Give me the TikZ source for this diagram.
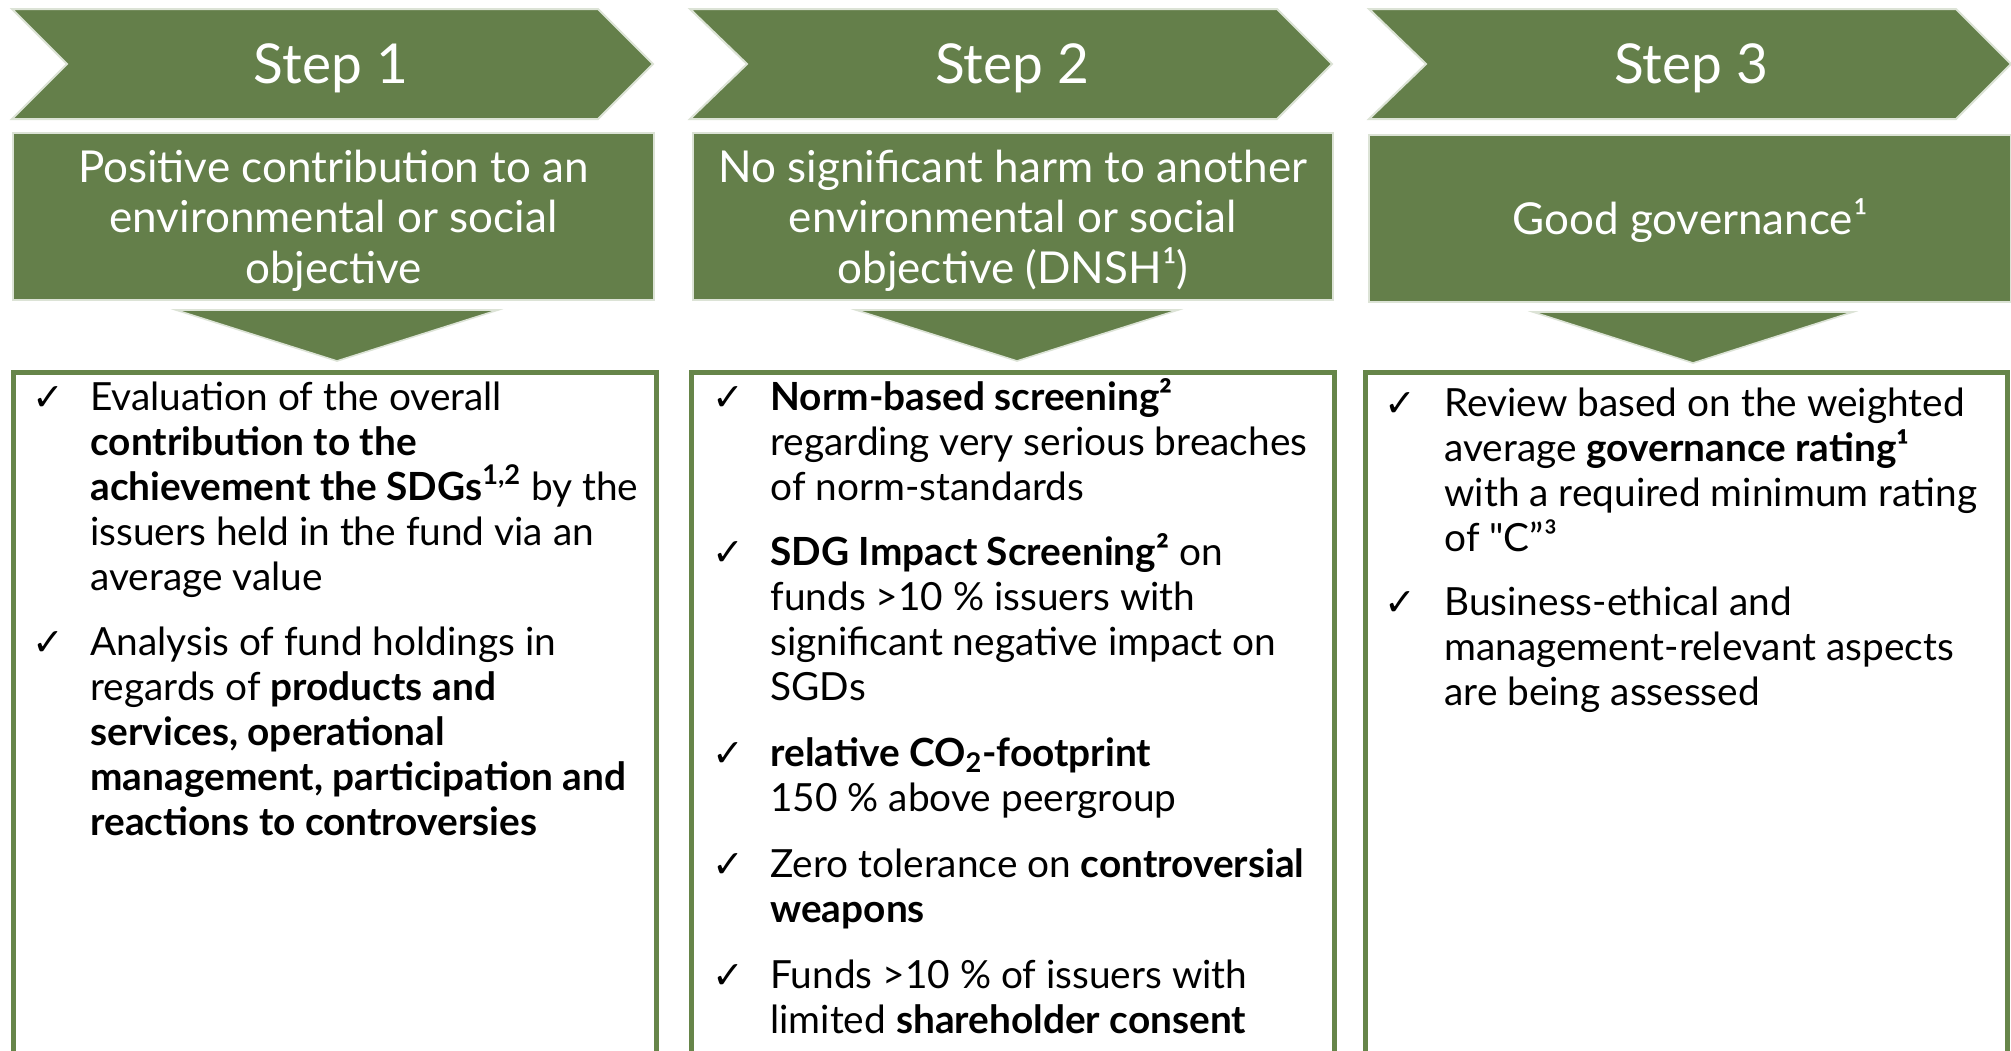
\documentclass[tikz,border=0pt]{standalone}
\usepackage{fontspec}
\setmainfont{Lato}
\newfontfamily\symfont{DejaVu Sans}
\newcommand\sq{{\XeTeXglyph\XeTeXcharglyph"22\relax}}
\definecolor{sgreen}{HTML}{647F4A}
\definecolor{sedge}{HTML}{DCE3D6}
\definecolor{sframe}{HTML}{668549}
\begin{document}
\begin{tikzpicture}[x=0.5pt,y=-0.5pt,
  chev/.style={fill=sgreen,draw=sedge,line width=1pt,line join=miter},
  tri/.style={fill=sgreen,draw=sedge,line width=0.8pt},
  hbox/.style={fill=sgreen,draw=sedge,line width=1pt,inner sep=0,text=white,align=center,
    minimum height=83.5pt,font=\fontsize{22}{25.25}\selectfont},
  steplbl/.style={text=white,font=\fontsize{27.5}{33}\selectfont,anchor=base,inner sep=0},
  cbox/.style={draw=sframe,line width=2.5pt},
  chk/.style={anchor=base west,inner sep=0,font=\symfont\fontsize{19}{20}\selectfont},
  itm/.style={anchor=base west,inner sep=0,font=\fontsize{19.4}{22.5}\selectfont}]
\useasboundingbox (0,0) rectangle (2011,1050);
\clip (0,0) rectangle (2011,1050);
\fill[white] (0,0) rectangle (2011,1050);

% chevrons
\draw[chev] (12,9) -- (598,9) -- (653,64) -- (598,119) -- (12,119) -- (67,64) -- cycle;
\draw[chev] (690,9) -- (1277,9) -- (1332,64) -- (1277,119) -- (690,119) -- (747,64) -- cycle;
\draw[chev] (1369,9) -- (1956,9) -- (2011,64) -- (1956,119) -- (1369,119) -- (1426,64) -- cycle;
\node[steplbl] (s1) at (331,83) {Step 1};
\node[steplbl] (s2) at (1012,83) {Step 2};
\node[steplbl] (s3) at (1691,83) {Step 3};

% header boxes
\node[hbox,minimum width=320.5pt] (h1) at (333.5,216.5) {};
\node[text=white,align=center,inner sep=0,font=\fontsize{22}{25.25}\selectfont] (h1t) at (333.5,220.5)
  {Positive contribution to an\\environmental or social\\objective};
\node[hbox,minimum width=320pt] (h2) at (1013,216.5) {};
\node[text=white,align=center,inner sep=0,font=\fontsize{22}{25.25}\selectfont] (h2t) at (1013,220.5)
  {No significant harm to another\\environmental or social\\objective (DNSH¹)};
\node[hbox,minimum width=321pt] (h3) at (1690,218) {};
\node[text=white,inner sep=0,font=\fontsize{22}{25.25}\selectfont] (h3t) at (1690,221)
  {Good governance¹};

% down triangles
\draw[tri] (176,310) -- (498,310) -- (337,361) -- cycle;
\draw[tri] (856,310) -- (1178,310) -- (1017,361) -- cycle;
\draw[tri] (1533,312) -- (1853,312) -- (1693,363) -- cycle;

% content boxes
\draw[cbox] (13,372) rectangle (656,1090);
\draw[cbox] (691,372) rectangle (1334,1090);
\draw[cbox] (1365,372) rectangle (2007,1090);

% box 1
\node[chk] (c11) at (32,410) {✓};
\node[itm] (t11) at (90,410) {\parbox[t]{300pt}{Evaluation of the overall\\
  \textbf{contribution to the}\\
  \textbf{achievement the SDGs\textsuperscript{1,2}} by the\\
  issuers held in the fund via an\\
  average value}};
\node[chk] (c12) at (32,655) {✓};
\node[itm] (t12) at (90,655) {\parbox[t]{300pt}{Analysis of fund holdings in\\
  regards of \textbf{products and}\\
  \textbf{services, operational}\\
  \textbf{management, participation and}\\
  \textbf{reactions to controversies}}};

% box 2
\node[chk] (c21) at (712,410) {✓};
\node[itm] (t21) at (770,410) {\parbox[t]{300pt}{\textbf{Norm-based screening²}\\
  regarding very serious breaches\\
  of norm-standards}};
\node[chk] (c22) at (712,565) {✓};
\node[itm] (t22) at (770,565) {\parbox[t]{300pt}{\textbf{SDG Impact Screening²} on\\
  funds >10 \% issuers with\\
  significant negative impact on\\
  SGDs}};
\node[chk] (c23) at (712,766) {✓};
\node[itm] (t23) at (770,766) {\parbox[t]{300pt}{\textbf{relative CO\textsubscript{2}-footprint}\\
  150 \% above peergroup}};
\node[chk] (c24) at (712,877) {✓};
\node[itm] (t24) at (770,877) {\parbox[t]{300pt}{Zero tolerance on \textbf{controversial}\\
  \textbf{weapons}}};
\node[chk] (c25) at (712,988) {✓};
\node[itm] (t25) at (770,988) {\parbox[t]{300pt}{Funds >10 \% of issuers with\\
  limited \textbf{shareholder consent}}};

% box 3
\node[chk] (c31) at (1384,416) {✓};
\node[itm] (t31) at (1444,416) {\parbox[t]{300pt}{Review based on the weighted\\
  average \textbf{governance rating¹}\\
  with a required minimum rating\\
  of \sq C”³}};
\node[chk] (c32) at (1384,615) {✓};
\node[itm] (t32) at (1444,615) {\parbox[t]{300pt}{Business-ethical and\\
  management-relevant aspects\\
  are being assessed}};
\end{tikzpicture}
\end{document}
